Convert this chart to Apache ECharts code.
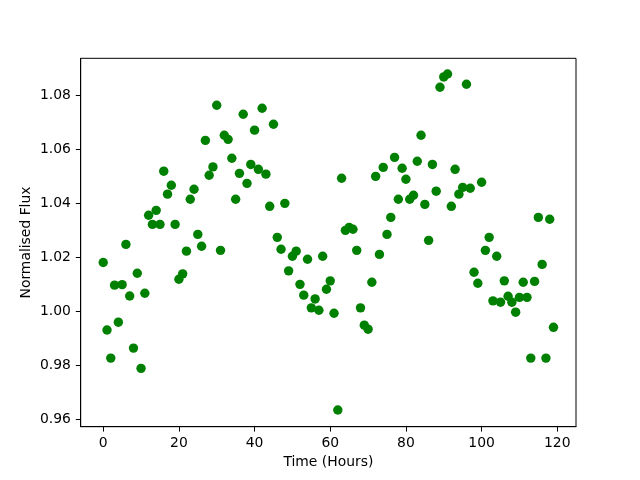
<!DOCTYPE html>
<html>
<head>
<meta charset="utf-8">
<script src="https://cdn.jsdelivr.net/npm/echarts@6/dist/echarts.min.js"></script>
<style>
  html, body { margin: 0; padding: 0; background: #fff; }
  #chart { width: 640px; height: 480px; }
</style>
</head>
<body>
<div id="chart"></div>
<script>
// 时间（小时）
const hours = [];
for (let h = 0; h < 120; h++) hours.push(h);

// 归一化通量
const flux = [
  1.0180, 0.9930, 0.9826, 1.0096, 0.9959, 1.0098, 1.0247, 1.0056, 0.9863, 1.0140,
  0.9788, 1.0066, 1.0355, 1.0321, 1.0373, 1.0321, 1.0518, 1.0433, 1.0466, 1.0321,
  1.0118, 1.0138, 1.0222, 1.0414, 1.0451, 1.0284, 1.0240, 1.0632, 1.0503, 1.0534,
  1.0762, 1.0225, 1.0651, 1.0636, 1.0566, 1.0414, 1.0510, 1.0729, 1.0473, 1.0543,
  1.0670, 1.0525, 1.0751, 1.0507, 1.0388, 1.0692, 1.0273, 1.0229, 1.0399, 1.0149,
  1.0203, 1.0222, 1.0099, 1.0059, 1.0192, 1.0012, 1.0045, 1.0003, 1.0203, 1.0081,
  1.0112, 0.9992, 0.9634, 1.0492, 1.0299, 1.0310, 1.0303, 1.0225, 1.0012, 0.9948,
  0.9933, 1.0107, 1.0499, 1.0210, 1.0532, 1.0284, 1.0347, 1.0569, 1.0414, 1.0529,
  1.0488, 1.0414, 1.0429, 1.0555, 1.0651, 1.0395, 1.0262, 1.0543, 1.0444, 1.0829,
  1.0867, 1.0878, 1.0388, 1.0525, 1.0433, 1.0458, 1.0840, 1.0455, 1.0144, 1.0103,
  1.0477, 1.0225, 1.0273, 1.0038, 1.0203, 1.0033, 1.0112, 1.0055, 1.0033, 0.9996,
  1.0051, 1.0107, 1.0051, 0.9826, 1.0110, 1.0347, 1.0173, 0.9826, 1.0340, 0.9940
];

// 刻度
const xTicks = [0, 20, 40, 60, 80, 100, 120];
const yTicks = [0.96, 0.98, 1.00, 1.02, 1.04, 1.06, 1.08];

const font = 'DejaVu Sans';
let chart = echarts.init(document.getElementById('chart'));

let option = {
    animation: false,
    backgroundColor: '#fff',
    grid: {
        left: 80.7,
        right: 64,
        top: 58.3,
        bottom: 53.3,
        show: true,
        borderColor: '#000',
        borderWidth: 1
    },
    xAxis: {
        type: 'value',
        min: -5.95,
        max: 124.95,
        name: 'Time (Hours)',
        nameLocation: 'middle',
        nameGap: 29,
        nameMoveOverlap: false,
        nameTextStyle: { color: '#000', fontFamily: font, fontSize: 13.9 },
        axisLine: { show: true, onZero: false, lineStyle: { color: '#000', width: 1 } },
        axisTick: { show: true, length: 4.9, customValues: xTicks, lineStyle: { color: '#000' } },
        axisLabel: {
            customValues: xTicks,
            margin: 9.8,
            color: '#000',
            fontFamily: font,
            fontSize: 13.9
        },
        splitLine: { show: false }
    },
    yAxis: {
        type: 'value',
        min: 0.9572,
        max: 1.0936,
        name: 'Normalised Flux',
        nameLocation: 'middle',
        nameGap: 47,
        nameMoveOverlap: false,
        nameTextStyle: { color: '#000', fontFamily: font, fontSize: 13.9 },
        axisLine: { show: true, onZero: false, lineStyle: { color: '#000', width: 1 } },
        axisTick: { show: true, length: 4.9, customValues: yTicks, lineStyle: { color: '#000' } },
        axisLabel: {
            customValues: yTicks,
            margin: 9.8,
            color: '#000',
            fontFamily: font,
            fontSize: 13.9,
            formatter: v => v.toFixed(2)
        },
        splitLine: { show: false }
    },
    series: [{
        type: 'scatter',
        data: hours.map((h, i) => [h, flux[i]]),
        symbol: 'circle',
        symbolSize: 9.4,
        itemStyle: { color: '#008000', opacity: 1 }
    }]
};
chart.setOption(option);
</script>
</body>
</html>
